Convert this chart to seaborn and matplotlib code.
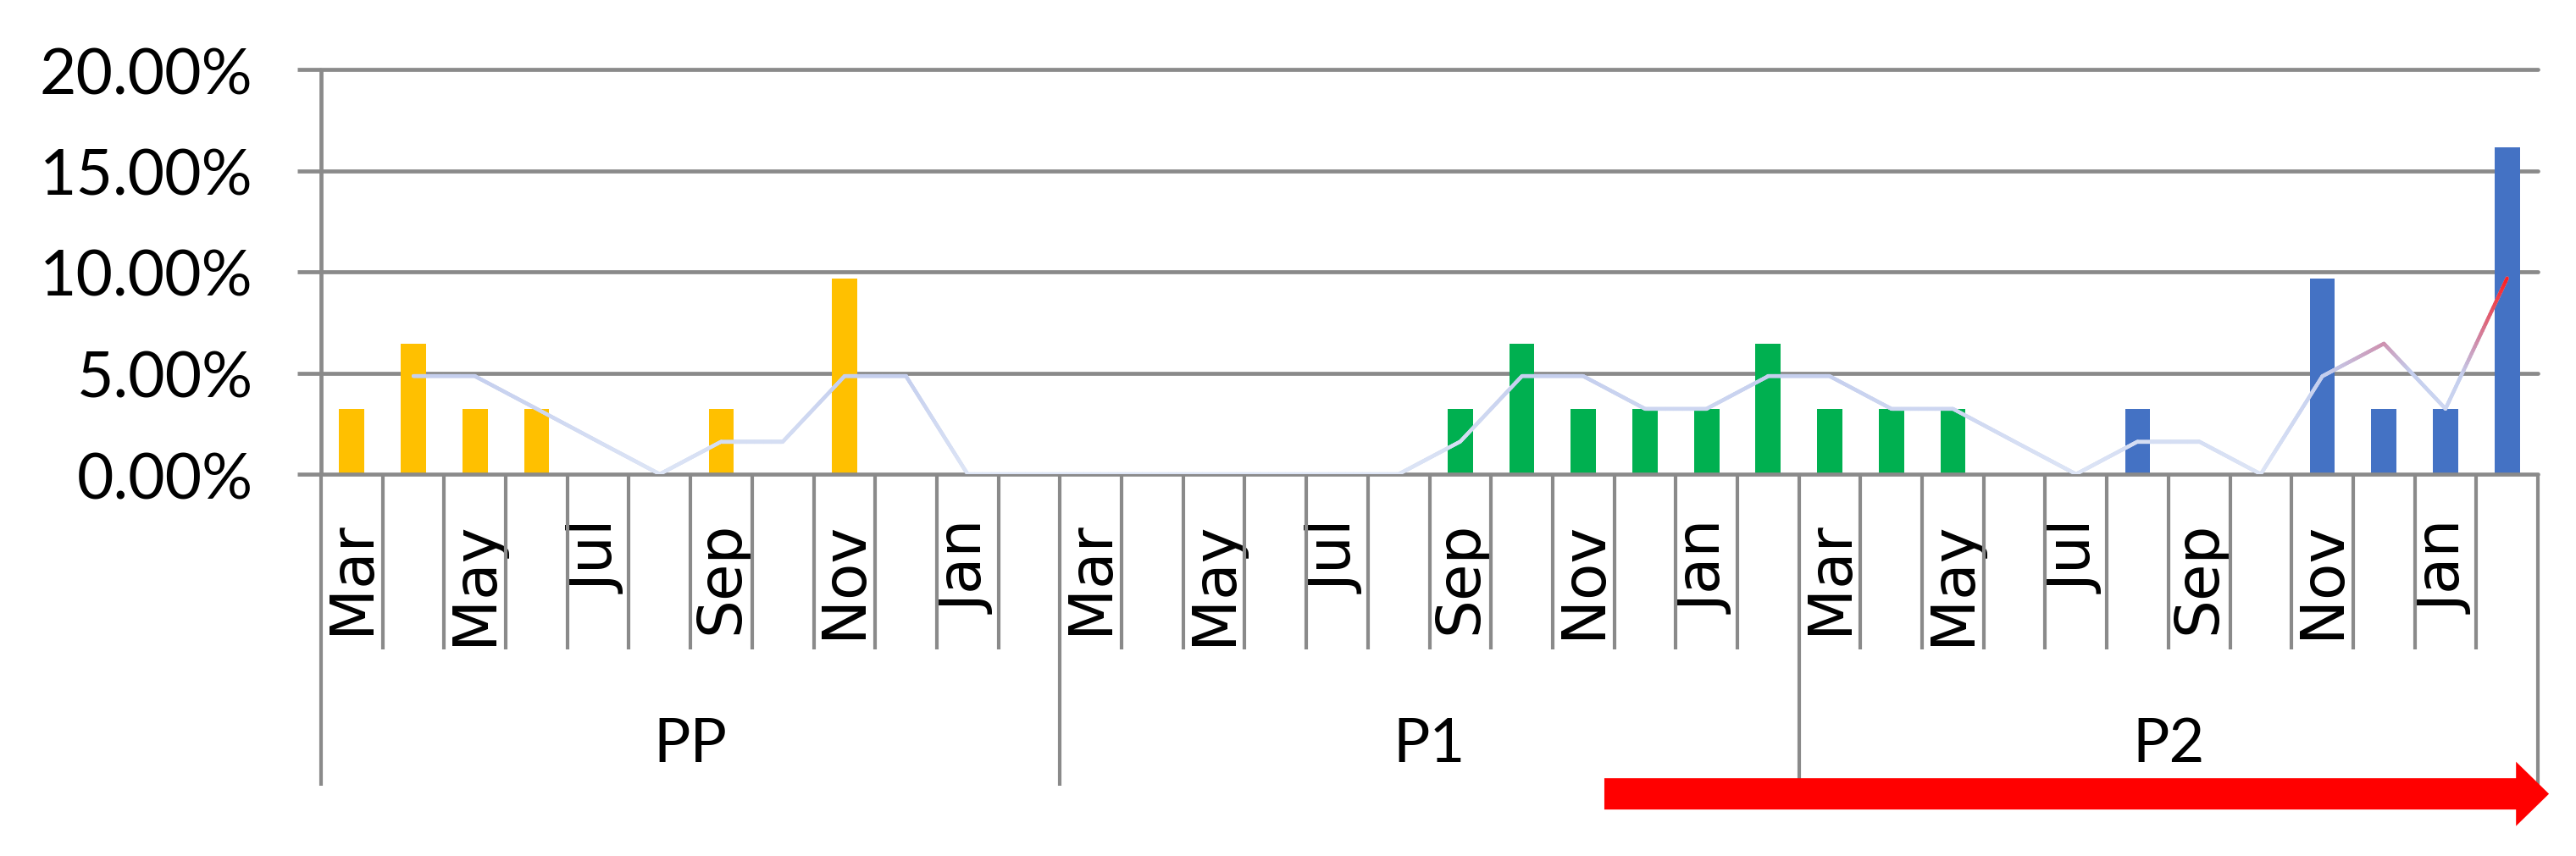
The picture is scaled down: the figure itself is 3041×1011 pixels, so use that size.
import numpy as np
import pandas as pd
import matplotlib
matplotlib.use("Agg")
import matplotlib.pyplot as plt
import seaborn as sns
from matplotlib.collections import LineCollection
from matplotlib.colors import LinearSegmentedColormap
import matplotlib.transforms as mtransforms

# ---------------- data ----------------
groups = ["PP", "P1", "P2"]
months = ["Mar", "Apr", "May", "Jun", "Jul", "Aug", "Sep", "Oct", "Nov", "Dec", "Jan", "Feb"]
shown_months = ["Mar", "May", "Jul", "Sep", "Nov", "Jan"]

rate = [
    0.0323, 0.0645, 0.0323, 0.0323, 0.0, 0.0, 0.0323, 0.0, 0.0968, 0.0, 0.0, 0.0,      # PP
    0.0, 0.0, 0.0, 0.0, 0.0, 0.0, 0.0323, 0.0645, 0.0323, 0.0323, 0.0323, 0.0645,      # P1
    0.0323, 0.0323, 0.0323, 0.0, 0.0, 0.0323, 0.0, 0.0, 0.0968, 0.0323, 0.0323, 0.1613  # P2
]
phase = (["yellow"] * 12) + (["green"] * 15) + (["blue"] * 9)

moving_avg = [
    np.nan, 0.0484, 0.0484, 0.0323, 0.0161, 0.0, 0.0161, 0.0161, 0.0484, 0.0484, 0.0, 0.0,
    0.0, 0.0, 0.0, 0.0, 0.0, 0.0, 0.0161, 0.0484, 0.0484, 0.0323, 0.0323, 0.0484,
    0.0484, 0.0323, 0.0323, 0.0161, 0.0, 0.0161, 0.0161, 0.0, 0.0484, 0.0645, 0.0323, 0.0968
]
y_ticks = [0.0, 0.05, 0.10, 0.15, 0.20]

palette = {"yellow": "#FFC000", "green": "#00B050", "blue": "#4472C4"}
grid_c = "#8A8A8A"

# ---------------- figure ----------------
sns.set_theme(style="white")
plt.rcParams["font.family"] = ["Lato", "DejaVu Sans"]

W, H, dpi = 3041, 1012, 100
fig = plt.figure(figsize=(W / dpi, H / dpi), dpi=dpi)
fig.patch.set_facecolor("white")
ax = fig.add_axes([379 / W, 1 - 561 / H, (2996 - 379) / W, (561 - 83) / H])

n = len(rate)
labels_full = [m for g in groups for m in months]
df = pd.DataFrame({"pos": np.arange(n), "rate": rate, "phase": phase, "month": labels_full})

sns.barplot(data=df, x="pos", y="rate", hue="phase", palette=palette, dodge=False,
            native_scale=True, width=0.41, linewidth=0, errorbar=None, legend=False,
            saturation=1, ax=ax, zorder=3)

base_line = "#C9D3EF"
lw_line = 3.1
sns.lineplot(x=df["pos"], y=moving_avg, color=base_line, lw=lw_line, ax=ax, zorder=4)

# gradient overlay (colour depends on height, like the original gradient line)
cmap = LinearSegmentedColormap.from_list(
    "ma", [(0.0, "#DDE5F6"), (0.25, "#C4CEEE"), (0.33, "#D08AA8"), (0.49, "#FF1A1A"), (1.0, "#FF0000")])
xs = df["pos"].to_numpy(dtype=float)
ys = np.array(moving_avg, dtype=float)
segs, cols = [], []
for i in range(n - 1):
    if np.isnan(ys[i]) or np.isnan(ys[i + 1]):
        continue
    t = np.linspace(0, 1, 41)
    px = xs[i] + (xs[i + 1] - xs[i]) * t
    py = ys[i] + (ys[i + 1] - ys[i]) * t
    for j in range(40):
        segs.append([(px[j], py[j]), (px[j + 1], py[j + 1])])
        cols.append(cmap(((py[j] + py[j + 1]) / 2) / 0.20))
lc = LineCollection(segs, colors=cols, linewidths=lw_line, capstyle="round", zorder=5)
ax.add_collection(lc)

# axes limits and grid
ax.set_xlim(-0.5, n - 0.5)
ax.set_ylim(0, 0.20)
for s in ax.spines.values():
    s.set_visible(False)
ax.set_yticks(y_ticks)
ax.set_yticklabels([f"{v * 100:.2f}%" for v in y_ticks])
ax.grid(False)
for v in y_ticks:
    ax.axhline(v, color=grid_c, lw=3.4, zorder=1 if v > 0 else 4.5, clip_on=False)
ax.tick_params(axis="y", length=20, width=3.4, color=grid_c, pad=38, labelsize=54,
               labelcolor="black", left=True)

# month tick labels
tick_pos = df.loc[df["month"].isin(shown_months), "pos"].tolist()
tick_lab = df.loc[df["month"].isin(shown_months), "month"].tolist()
ax.tick_params(axis="x", length=0, pad=39, labelcolor="black", bottom=True)
ax.set_xticks(tick_pos)
ax.set_xticklabels(tick_lab, rotation=90, fontsize=51)
for lbl in ax.get_xticklabels():
    lbl.set_fontfamily("DejaVu Sans")
    lbl.set_fontsize(51)
ax.set_xlabel("")
ax.set_ylabel("")

# separators below the axis
trans = mtransforms.blended_transform_factory(ax.transData, ax.transAxes)
bounds = np.arange(n + 1) - 0.5
long_b = [b for k, b in enumerate(bounds) if k % 12 == 0]
short_b = [b for k, b in enumerate(bounds) if k % 12 != 0]
ax.vlines(short_b, -0.433, 0, transform=trans, colors=grid_c, lw=3.0, clip_on=False, zorder=2)
ax.vlines(long_b, -0.77, 0, transform=trans, colors=grid_c, lw=3.0, clip_on=False, zorder=2)
ax.vlines([bounds[0]], 0, 1, transform=trans, colors=grid_c, lw=3.4, clip_on=False, zorder=4.5)

# group labels
for gi, g in enumerate(groups):
    ax.text(gi * 12 + 5.5, -0.709, g, transform=trans, ha="center", va="baseline",
            fontsize=52, color="black")

# red arrow
ax.annotate("", xy=(35.68, -0.79), xytext=(20.34, -0.79), xycoords=trans, textcoords=trans,
            arrowprops=dict(arrowstyle="simple,head_width=54.7,head_length=28,tail_width=26.6",
                            color="#FF0000", shrinkA=0, shrinkB=0, mutation_scale=1, lw=0),
            annotation_clip=False, zorder=6)

fig.savefig("out.png", dpi=dpi, facecolor="white")
